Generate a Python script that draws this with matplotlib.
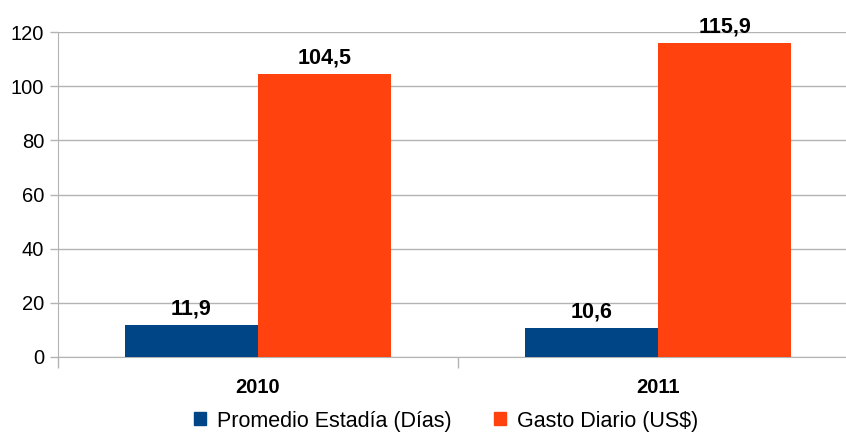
import matplotlib.pyplot as plt
import numpy as np
from matplotlib.patches import Patch

plt.rcParams['font.family'] = ['Liberation Sans', 'DejaVu Sans']

years = ['2010', '2011']
estadia = [11.9, 10.6]
gasto = [104.5, 115.9]
series_names = ['Promedio Estadía (Días)', 'Gasto Diario (US$)']
colors = ['#004586', '#ff420e']

fig = plt.figure(figsize=(8.46, 4.32), dpi=100)
# axes run past the right edge of the canvas, as in the original export
ax = fig.add_axes([58 / 846, 75 / 432, 800 / 846, 325 / 432])

x = np.arange(len(years))
w = 1 / 3
b1 = ax.bar(x - w / 2, estadia, w, color=colors[0], zorder=3)
b2 = ax.bar(x + w / 2, gasto, w, color=colors[1], zorder=3)

for bars, vals in ((b1, estadia), (b2, gasto)):
    for r, v in zip(bars, vals):
        ax.annotate(f'{v:.1f}'.replace('.', ','),
                    (r.get_x() + r.get_width() / 2, v),
                    xytext=(0, 4), textcoords='offset points',
                    ha='center', va='bottom', fontsize=15.5, fontweight='bold')

ax.set_xlim(-0.5, 1.5)
ax.set_ylim(0, 120)
ax.set_yticks(range(0, 121, 20))
ax.yaxis.grid(True, color='#b3b3b3', linewidth=1, zorder=0)
ax.tick_params(axis='y', length=6, width=1, color='#b3b3b3', labelsize=14.5, pad=4)

# year labels sit between the category ticks
ax.set_xticks([-0.5, 0.5, 1.5])
ax.set_xticklabels([])
ax.set_xticks(x, minor=True)
ax.set_xticklabels(years, minor=True, fontsize=14.5, fontweight='bold')
ax.tick_params(axis='x', which='major', length=8, width=1, color='#b3b3b3')
ax.tick_params(axis='x', which='minor', length=0, pad=15)

for side in ('top', 'right'):
    ax.spines[side].set_visible(False)
for side in ('left', 'bottom'):
    ax.spines[side].set_color('#b3b3b3')

handles = [Patch(color=c) for c in colors]
fig.legend(handles, series_names, loc='center', bbox_to_anchor=(446 / 846, 1 - 421 / 432),
           ncol=2, frameon=False, fontsize=15.5, handlelength=0.55, handleheight=0.55,
           handletextpad=0.5, columnspacing=2.0)

fig.savefig('out.png', dpi=100)
